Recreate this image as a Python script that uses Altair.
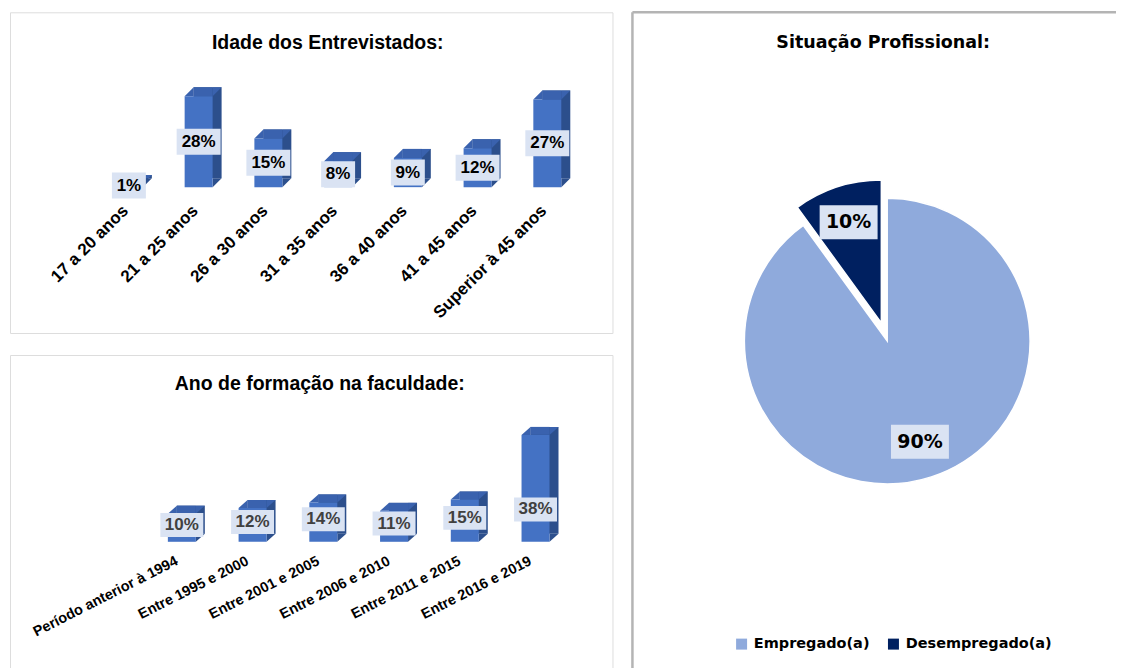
import altair as alt
import pandas as pd
import math

# ---------------- data ----------------
age_cats = ["17 a 20 anos", "21 a 25 anos", "26 a 30 anos", "31 a 35 anos",
            "36 a 40 anos", "41 a 45 anos", "Superior à 45 anos"]
age_vals = [1, 28, 15, 8, 9, 12, 27]

grad_cats = ["Período anterior à 1994", "Entre 1995 e 2000", "Entre 2001 e 2005",
             "Entre 2006 e 2010", "Entre 2011 e 2015", "Entre 2016 e 2019"]
grad_vals = [10, 12, 14, 11, 15, 38]

job_cats = ["Empregado(a)", "Desempregado(a)"]
job_vals = [90, 10]

titles = ["Idade dos Entrevistados:", "Ano de formação na faculdade:", "Situação Profissional:"]

# ---------------- styles ----------------
FRONT = "#4472C4"
SIDE = "#2C4F8C"
TOP = "#3A62AE"
BOX = "#DAE3F3"
BORDER = "#B4B4B4"
LEFT_FONT = "Liberation Sans"
PIE_FONT = "DejaVu Sans"


def title_mark(text, x, y, font, size):
    return alt.Chart(pd.DataFrame({"t": [text]})).mark_text(
        font=font, fontSize=size, fontWeight="bold", color="black",
        baseline="middle", align="center").encode(
        text="t:N", x=alt.value(x), y=alt.value(y))


def bar3d(cats, vals, title, tx, ty, w, h, ydom, xrange, pin,
          label_angle, label_size, axis_offset, label_shift, text_color, label_y_expr,
          dx, dy, box_h, box_w3, box_w2, text_size):
    df = pd.DataFrame({"cat": cats, "v": vals})
    step = (xrange[1] - xrange[0]) / len(cats)
    bw = step * (1 - pin)
    xenc = alt.X("cat:N", sort=cats,
                 scale=alt.Scale(range=xrange, paddingInner=pin, paddingOuter=pin / 2),
                 axis=alt.Axis(title=None, domain=False, ticks=False, grid=False,
                               labelAngle=label_angle, labelAlign="right",
                               labelBaseline="top", labelPadding=3,
                               labelOffset=label_shift,
                               offset=axis_offset, labelFontSize=label_size,
                               labelFont=LEFT_FONT, labelFontWeight="bold",
                               labelColor="black", labelLimit=400))
    ys = alt.Scale(domain=ydom, nice=False, zero=False)
    hb3 = box_h / box_w3
    hb2 = box_h / box_w2
    base = alt.Chart(df).transform_calculate(
        lbl="datum.v + '%'",
        ly=label_y_expr,
        bsz=f"length(datum.v + '%') > 2 ? {box_w3 * box_w3} : {box_w2 * box_w2}",
        shp=(f"length(datum.v + '%') > 2 ? "
             f"'M-1,-{hb3:.4f}L1,-{hb3:.4f}L1,{hb3:.4f}L-1,{hb3:.4f}Z' : "
             f"'M-1,-{hb2:.4f}L1,-{hb2:.4f}L1,{hb2:.4f}L-1,{hb2:.4f}Z'"),
    ).encode(x=xenc)

    hr = dy / dx
    back = base.mark_bar(color=SIDE, xOffset=dx, yOffset=-dy, y2Offset=-dy).encode(
        y=alt.Y("v:Q", scale=ys, axis=None), y2=alt.datum(0))
    top_strip = base.mark_bar(color=TOP, width=bw - dx, xOffset=dx / 2, yOffset=-dy).encode(
        y=alt.Y("v:Q", scale=ys, axis=None), y2="v:Q")
    tl = base.mark_point(shape=f"M-1,{hr}L1,-{hr}L1,{hr}Z", filled=True, opacity=1,
                         size=dx * dx, color=TOP, xOffset=-bw / 2 + dx / 2,
                         yOffset=-dy / 2).encode(y=alt.Y("v:Q", scale=ys, axis=None))
    tr = base.mark_point(shape=f"M-1,{hr}L1,-{hr}L-1,-{hr}Z", filled=True, opacity=1,
                         size=dx * dx, color=TOP, xOffset=bw / 2 + dx / 2,
                         yOffset=-dy / 2).encode(y=alt.Y("v:Q", scale=ys, axis=None))
    br = base.mark_point(shape=f"M-1,{hr}L-1,-{hr}L1,-{hr}Z", filled=True, opacity=1,
                         size=dx * dx, color=SIDE, xOffset=bw / 2 + dx / 2,
                         yOffset=-dy / 2).encode(y=alt.Y(datum=0, scale=ys, axis=None))
    front = base.mark_bar(color=FRONT).encode(
        y=alt.Y("v:Q", scale=ys, axis=None), y2=alt.datum(0))
    boxes = base.mark_point(filled=True, opacity=1, color=BOX).encode(
        y=alt.Y("ly:Q", scale=ys, axis=None),
        shape=alt.Shape("shp:N", scale=None),
        size=alt.Size("bsz:Q", scale=None))
    texts = base.mark_text(font=LEFT_FONT, fontWeight="bold", fontSize=text_size,
                           color=text_color, baseline="middle").encode(
        y=alt.Y("ly:Q", scale=ys, axis=None), text="lbl:N")
    ttl = title_mark(title, tx, ty, LEFT_FONT, 19.5)

    return alt.layer(back, top_strip, tl, tr, br, front, boxes, texts, ttl).properties(
        width=w, height=h)


top_chart = bar3d(age_cats, age_vals, titles[0], 318, 31,
                  603, 321, [-44.92, 53.85], [84.1, 572.7], 0.599,
                  -45, 17, -134, -9, "black", "datum.v / 2",
                  9, 9, 26, 44, 34, 17)

bottom_chart = bar3d(grad_cats, grad_vals, titles[1], 310, 29,
                     603, 330, [-50.8, 66.4], [136.6, 561.4], 0.6045,
                     -27, 14.5, -134, -8, "#404040", "min(datum.v / 2 + 1, 11.5)",
                     9, 8, 24, 43, 34, 17)

# ---------------- pie ----------------
pie_df = pd.DataFrame({"cat": job_cats, "v": job_vals, "k": [0, 1]})
PW, PH = 484, 680
CX, CY = 255, 329
xs = alt.Scale(domain=[-CX, PW - CX], nice=False, zero=False)
ys = alt.Scale(domain=[-(PH - CY), CY], nice=False, zero=False)

pie_base = alt.Chart(pie_df).transform_window(
    cum="sum(v)", sort=[alt.SortField("k")], frame=[None, 0]
).transform_calculate(
    t0="datum.cum - datum.v",
    mid="(datum.cum - datum.v / 2) / 100 * 2 * PI",
    e="datum.cat == 'Desempregado(a)' ? 19 : 0",
    lbl="datum.v + '%'",
).transform_calculate(
    ex="datum.e * sin(datum.mid)",
    ey="datum.e * cos(datum.mid)",
).transform_calculate(
    lx="datum.ex + 106 * sin(datum.mid)",
    ly="datum.ey + 106 * cos(datum.mid)",
)

arcs = pie_base.mark_arc(radius=143, stroke="white", strokeWidth=1.5).encode(
    x=alt.X("ex:Q", scale=xs, axis=None),
    y=alt.Y("ey:Q", scale=ys, axis=None),
    theta=alt.Theta("t0:Q", stack=None,
                    scale=alt.Scale(domain=[0, 100], range=[0, 2 * math.pi])),
    theta2="cum:Q",
    color=alt.Color("cat:N", sort=job_cats,
                    scale=alt.Scale(domain=job_cats, range=["#8FAADC", "#002060"]),
                    legend=alt.Legend(orient="none", legendX=725, legendY=625,
                                      direction="horizontal", title=None,
                                      symbolType="square", symbolSize=121,
                                      symbolStrokeWidth=0, labelFont=PIE_FONT,
                                      labelFontWeight="bold", labelFontSize=14.5,
                                      labelColor="black", labelOffset=5,
                                      columnPadding=16, padding=0, labelLimit=300)),
)
pie_boxes = pie_base.mark_point(shape="M-1,-0.586L1,-0.586L1,0.586L-1,0.586Z",
                                size=3364, filled=True, opacity=1, color=BOX).encode(
    x=alt.X("lx:Q", scale=xs, axis=None), y=alt.Y("ly:Q", scale=ys, axis=None))
pie_lbl = pie_base.mark_text(font=PIE_FONT, fontWeight="bold", fontSize=19,
                             color="black", baseline="middle").encode(
    x=alt.X("lx:Q", scale=xs, axis=None), y=alt.Y("ly:Q", scale=ys, axis=None),
    text="lbl:N")

edge_df = pd.DataFrame({"e": [0]})
left_edge = alt.Chart(edge_df).mark_rule(color=BORDER, strokeWidth=2.5).encode(
    x=alt.value(0), y=alt.value(0), y2=alt.value(PH))
top_edge = alt.Chart(edge_df).mark_rule(color=BORDER, strokeWidth=2.5).encode(
    x=alt.value(0), x2=alt.value(PW), y=alt.value(0))
pie_title = title_mark(titles[2], 251, 31, PIE_FONT, 17.5)

pie = alt.layer(left_edge, top_edge, arcs, pie_boxes, pie_lbl, pie_title).properties(
    width=PW, height=PH, view=alt.ViewBackground(strokeOpacity=0))

left = alt.vconcat(top_chart, bottom_chart, spacing=20)
chart = alt.hconcat(left, pie, spacing=17).properties(
    padding={"left": 1, "top": 2, "right": 0, "bottom": 0}
).configure_view(stroke=BORDER, strokeWidth=2.5).configure(background="white")

chart.save("out.html", embed_options={"renderer": "svg", "actions": False})
